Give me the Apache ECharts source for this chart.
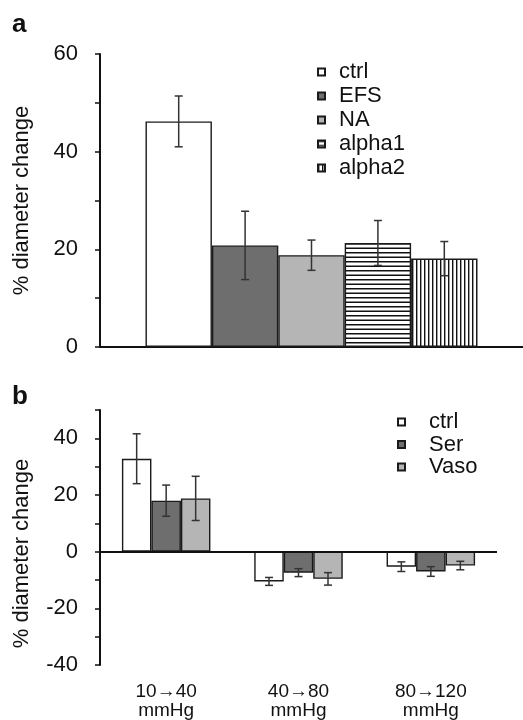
<!DOCTYPE html>
<html>
<head>
<meta charset="utf-8">
<script src="https://cdn.jsdelivr.net/npm/echarts@6/dist/echarts.min.js"></script>
<style>
  html, body { margin: 0; padding: 0; background: #fff; }
  #main { width: 523px; height: 720px; }
</style>
</head>
<body>
<div id="main"></div>
<script>
// ---- data ----
// panel a: one group of five conditions
const categoriesA = [""];
const namesA = ["ctrl", "EFS", "NA", "alpha1", "alpha2"];
const meansA = [46.2, 20.8, 18.8, 21.3, 18.1];
const errA = [5.2, 7.0, 3.1, 4.6, 3.5];

// panel b: three pressure steps x three conditions
const categoriesB = ["10\u219240\nmmHg", "40\u219280\nmmHg", "80\u2192120\nmmHg"];
const namesB = ["ctrl", "Ser", "Vaso"];
const ctrlB = [32.8, -10.5, -5.3];
const serB = [18.0, -7.4, -7.0];
const vasoB = [18.8, -9.6, -4.9];
const ctrlErrB = [8.8, 1.4, 1.7];
const serErrB = [5.5, 1.4, 1.7];
const vasoErrB = [7.8, 2.2, 1.5];

const FONT = "'Liberation Sans', Arial, sans-serif";
const INK = "#111";

// stripe fills for alpha1 / alpha2
function stripes(horizontal) {
  const c = document.createElement("canvas");
  if (horizontal) {
    c.width = 4; c.height = 9;
    const g = c.getContext("2d");
    g.fillStyle = "#fff"; g.fillRect(0, 0, 4, 9);
    g.fillStyle = "#111"; g.fillRect(0, 0, 4, 1.5); g.fillRect(0, 4.5, 4, 1.5);
  } else {
    c.width = 8; c.height = 4;
    const g = c.getContext("2d");
    g.fillStyle = "#fff"; g.fillRect(0, 0, 8, 4);
    g.fillStyle = "#111"; g.fillRect(0, 0, 1.4, 4); g.fillRect(4, 0, 1.4, 4);
  }
  return { image: c, repeat: "repeat" };
}

const fillsA = ["#ffffff", "#6e6e6e", "#b5b5b5", stripes(true), stripes(false)];
const fillsB = ["#ffffff", "#6e6e6e", "#b5b5b5"];

const BAR_A = 66.4, BAR_B = 29.5;

// error bars drawn next to the bar they belong to
function errRender(barW, n) {
  return function (params, api) {
    const x = api.value(0), lo = api.value(1), hi = api.value(2), k = api.value(3);
    const pHi = api.coord([x, hi]);
    const pLo = api.coord([x, lo]);
    const cx = pHi[0] + (k - (n - 1) / 2) * barW;
    const cap = 4;
    const st = { stroke: "#333", lineWidth: 1.5 };
    return {
      type: "group",
      children: [
        { type: "line", shape: { x1: cx, y1: pHi[1], x2: cx, y2: pLo[1] }, style: st },
        { type: "line", shape: { x1: cx - cap, y1: pHi[1], x2: cx + cap, y2: pHi[1] }, style: st },
        { type: "line", shape: { x1: cx - cap, y1: pLo[1], x2: cx + cap, y2: pLo[1] }, style: st },
      ],
    };
  };
}

function yAxisBase(gridIndex, min, max) {
  return {
    type: "value", gridIndex, min, max, interval: 10,
    name: "% diameter change", nameLocation: "middle", nameGap: 67,
    nameTextStyle: { color: INK, fontSize: 22, fontFamily: FONT },
    axisLine: { show: true, lineStyle: { color: INK, width: 2 } },
    axisTick: { show: true, length: 5, lineStyle: { color: INK, width: 1.5 } },
    axisLabel: {
      color: INK, fontSize: 22, fontFamily: FONT, margin: 22,
      formatter: v => (v % 20 === 0 ? String(v) : ""),
    },
    splitLine: { show: false },
  };
}

const series = [];
namesA.forEach((nm, i) => {
  series.push({
    name: nm, type: "bar", xAxisIndex: 0, yAxisIndex: 0,
    data: [meansA[i]], barWidth: BAR_A, barGap: "0%",
    itemStyle: { color: fillsA[i], borderColor: "#1a1a1a", borderWidth: 1.4 },
  });
});
series.push({
  type: "custom", xAxisIndex: 0, yAxisIndex: 0, z: 5, silent: true,
  renderItem: errRender(BAR_A, namesA.length),
  data: meansA.map((m, i) => [0, m - errA[i], m + errA[i], i]),
});

const valsB = [ctrlB, serB, vasoB];
const errsB = [ctrlErrB, serErrB, vasoErrB];
namesB.forEach((nm, i) => {
  const s = {
    name: nm, type: "bar", xAxisIndex: 1, yAxisIndex: 1,
    data: valsB[i], barWidth: BAR_B, barGap: "0%",
    itemStyle: { color: fillsB[i], borderColor: "#1a1a1a", borderWidth: 1.4 },
  };
  if (i === 0) {
    s.markLine = {
      silent: true, symbol: "none", label: { show: false },
      lineStyle: { color: INK, width: 2, type: "solid" },
      data: [{ yAxis: 0 }],
    };
  }
  series.push(s);
});
const errDataB = [];
valsB.forEach((vals, k) => vals.forEach((v, j) => errDataB.push([j, v - errsB[k][j], v + errsB[k][j], k])));
series.push({
  type: "custom", xAxisIndex: 1, yAxisIndex: 1, z: 5, silent: true,
  renderItem: errRender(BAR_B, namesB.length),
  data: errDataB,
});

const panelTitle = { fontSize: 26, fontWeight: "bold", color: INK, fontFamily: FONT };

const option = {
  backgroundColor: "#fff",
  animation: false,
  title: [
    { text: "a", left: 12, top: 12, padding: 0, textStyle: panelTitle },
    { text: "b", left: 12, top: 384, padding: 0, textStyle: panelTitle },
  ],
  legend: [
    {
      data: namesA, orient: "vertical", left: 317, top: 61, padding: 0,
      itemWidth: 7, itemHeight: 7, itemGap: 2,
      icon: "rect", selectedMode: false,
      textStyle: { fontSize: 22, lineHeight: 22, color: INK, fontFamily: FONT, padding: [0, 0, 0, 9] },
    },
    {
      data: namesB, orient: "vertical", left: 397, top: 411, padding: 0,
      itemWidth: 7, itemHeight: 7, itemGap: 0.5,
      icon: "rect", selectedMode: false,
      textStyle: { fontSize: 22, lineHeight: 22, color: INK, fontFamily: FONT, padding: [0, 0, 0, 19] },
    },
  ],
  grid: [
    { left: 100, top: 54, width: 436, height: 293 },
    { left: 100, top: 410, width: 397, height: 260 },
  ],
  xAxis: [
    {
      type: "category", gridIndex: 0, data: categoriesA,
      axisLine: { show: true, lineStyle: { color: INK, width: 2 } },
      axisTick: { show: false }, axisLabel: { show: false },
    },
    {
      type: "category", gridIndex: 1, data: categoriesB,
      axisLine: { show: false, onZero: false }, axisTick: { show: false },
      axisLabel: { color: INK, fontSize: 19, lineHeight: 19, fontFamily: FONT, margin: 17 },
    },
  ],
  yAxis: [
    yAxisBase(0, 0, 60),
    Object.assign(yAxisBase(1, -40, 50), {
      nameTextStyle: { color: INK, fontSize: 22, fontFamily: FONT, padding: [0, 32, 0, 0] },
    }),
  ],
  series,
};

echarts.init(document.getElementById("main")).setOption(option);
</script>
</body>
</html>
